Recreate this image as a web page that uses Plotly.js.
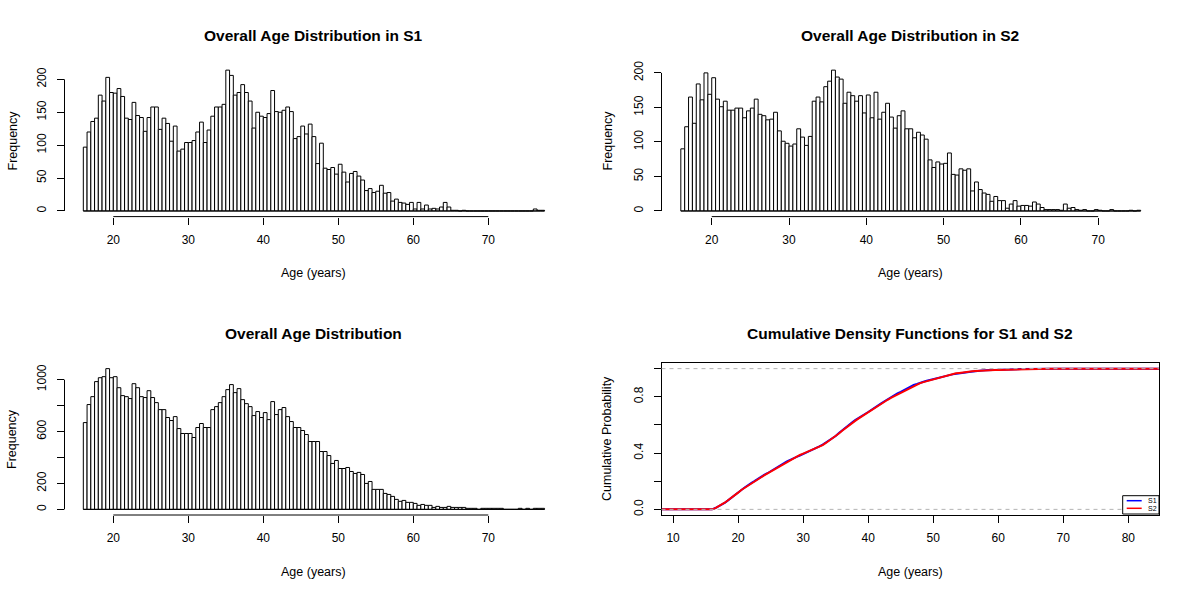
<!DOCTYPE html>
<html>
<head>
<meta charset="utf-8">
<script src="https://cdn.plot.ly/plotly-3.0.1.min.js"></script>
<style>html,body{margin:0;padding:0;background:#fff}#chart{width:1193px;height:596px}</style>
</head>
<body>
<div id="chart"></div>
<script>
// ---- data (histogram bins of 0.5 years starting at age 16) ----
const binStart = 16;
const binWidth = 0.5;

const s1Counts = [97,120,136,141,176,167,203,180,179,186,
  174,141,139,165,145,142,121,142,158,158,
  124,141,133,106,129,91,94,104,104,107,
  120,135,104,123,144,158,158,162,214,206,
  176,180,192,180,167,126,150,144,142,148,
  183,151,150,153,158,151,110,113,129,117,
  132,113,72,103,65,63,66,56,71,59,
  44,57,60,53,47,31,34,28,30,39,
  27,28,15,18,13,12,10,13,3,13,
  3,9,3,4,3,6,13,6,1,1,
  0,1,0,0,0,0,0,0,0,0,
  0,0,0,0,0,0,0,0,0,0,
  3,1,1];

const s2Counts = [90,122,165,127,184,161,200,169,193,162,
  151,159,146,146,149,149,135,145,149,162,
  140,138,132,133,143,116,101,98,94,97,
  119,107,95,108,159,165,158,180,188,204,
  194,191,156,172,167,159,167,142,168,135,
  172,133,143,156,136,120,138,145,119,119,
  106,114,110,104,74,63,71,68,69,84,
  53,52,61,59,61,29,42,31,26,24,
  14,21,15,15,4,10,15,7,8,8,
  7,13,10,5,2,2,2,2,1,10,
  4,5,2,1,2,0,0,2,1,0,
  0,2,0,0,0,0,1,0,1];

const overallCounts = [669,808,869,985,1015,1023,1085,1015,1023,938,
  877,869,854,969,938,869,862,915,862,823,
  769,769,708,685,715,623,585,585,585,554,
  631,662,631,631,769,792,823,869,923,962,
  900,931,846,815,792,723,754,708,746,692,
  831,731,769,785,715,677,631,631,608,577,
  523,523,523,446,446,415,354,377,315,315,
  323,292,277,285,269,200,215,154,154,154,
  123,115,100,77,62,69,54,54,46,31,
  38,31,31,15,23,15,15,23,15,15,
  15,15,8,8,8,0,8,8,8,8,
  8,8,0,0,0,0,8,0,8,0,
  8,8,8];

const ageTicks = [20,30,40,50,60,70];
const cdfAgeTicks = [10,20,30,40,50,60,70,80];
const freqTicksTop = [0,50,100,150,200];
const freqTicksBottom = [0,200,400,600,800,1000];
const freqTextBottom = ['0','200','','600','','1000'];
const probTicks = [0,0.2,0.4,0.6,0.8,1.0];
const probText = ['0.0','','0.4','','0.8',''];
const seriesNames = ['S1','S2'];
const titles = ['Overall Age Distribution in S1','Overall Age Distribution in S2',
  'Overall Age Distribution','Cumulative Density Functions for S1 and S2'];

// ---- layout geometry (pixels of a 1193x596 page) ----
const W = 1193, H = 596;
const px = v => v / W, py = v => 1 - v / H;
const leftDom = [px(64.5), px(563)];
const rightDom = [px(661.5), px(1159)];
const topDom = [py(216.6), py(64.5)];
const botDom = [py(515), py(363)];
const cdfRange = [8.22, 84.72];

const FONT = 'Liberation Sans, Arial, Helvetica, sans-serif';

function centers(arr) { return arr.map((_, i) => binStart + binWidth * (i + 0.5)); }
function histTrace(arr, xa, ya) {
  return {type: 'bar', x: centers(arr), y: arr, width: binWidth, xaxis: xa, yaxis: ya,
    marker: {color: '#ffffff', line: {color: '#000000', width: 1}}, hoverinfo: 'x+y', showlegend: false};
}
function cdfTrace(arr, color, name) {
  const total = arr.reduce((a, b) => a + b, 0);
  const xs = [cdfRange[0] - 5, binStart], ys = [0, 0];
  let c = 0;
  arr.forEach((v, i) => { c += v; xs.push(binStart + binWidth * (i + 1)); ys.push(c / total); });
  xs.push(cdfRange[1] + 5); ys.push(1);
  return {type: 'scatter', mode: 'lines', x: xs, y: ys, xaxis: 'x4', yaxis: 'y4', name: name,
    line: {color: color, width: 2}, showlegend: false};
}

const data = [
  histTrace(s1Counts, 'x', 'y'),
  histTrace(s2Counts, 'x2', 'y2'),
  histTrace(overallCounts, 'x3', 'y3'),
  cdfTrace(s1Counts, '#0000ff', seriesNames[0]),
  cdfTrace(s2Counts, '#ff0000', seriesNames[1])
];

function xAxis(dom, range, ticks, anchor, box) {
  return {domain: dom, range: range, anchor: anchor, tickmode: 'array', tickvals: ticks,
    ticks: 'outside', ticklen: 7, tickwidth: 1, tickcolor: '#000', showgrid: false, zeroline: false,
    showline: !!box, mirror: !!box, linecolor: '#000', linewidth: 1, ticklabelstandoff: 5,
    tickfont: {family: FONT, size: 12, color: '#000'}, fixedrange: true};
}
function yAxis(dom, range, ticks, text, anchor, box) {
  return {domain: dom, range: range, anchor: anchor, tickmode: 'array', tickvals: ticks, ticktext: text,
    tickangle: -90, ticks: 'outside', ticklen: 7, tickwidth: 1, tickcolor: '#000', showgrid: false,
    zeroline: false, showline: !!box, mirror: !!box, linecolor: '#000', linewidth: 1, ticklabelstandoff: 6,
    tickfont: {family: FONT, size: 12, color: '#000'}, fixedrange: true};
}

function binEnd(arr) { return binStart + binWidth * arr.length; }
const shapes = [];
// R-style axis lines spanning first..last tick
[['x','y',ageTicks,freqTicksTop,s1Counts],['x2','y2',ageTicks,freqTicksTop,s2Counts],['x3','y3',ageTicks,freqTicksBottom,overallCounts]]
.forEach(([xa, ya, xt, yt, arr]) => {
  shapes.push({type:'line', xref: xa, yref: ya + ' domain', x0: xt[0], x1: xt[xt.length-1], y0: 0, y1: 0, line:{color:'#000', width:1}});
  shapes.push({type:'line', xref: xa + ' domain', yref: ya, x0: 0, x1: 0, y0: yt[0], y1: yt[yt.length-1], line:{color:'#000', width:1}});
  // zero-height bins drawn as baseline
  shapes.push({type:'line', xref: xa, yref: ya, x0: binStart, x1: binEnd(arr), y0: 0, y1: 0, line:{color:'#000', width:1}});
});
// grey dashed 0/1 lines in the CDF panel
[0, 1].forEach(v => shapes.push({type:'line', xref:'x4 domain', yref:'y4', x0:0, x1:1, y0:v, y1:v,
  line:{color:'#b3b3b3', width:1, dash:'4px,4px'}, layer:'above'}));
// legend box
shapes.push({type:'rect', xref:'paper', yref:'paper', x0:px(1122.7), x1:px(1159), y0:py(514), y1:py(495.7),
  fillcolor:'#fff', line:{color:'#000', width:1}, layer:'above'});
shapes.push({type:'line', xref:'paper', yref:'paper', x0:px(1126.7), x1:px(1141.7), y0:py(500.7), y1:py(500.7), line:{color:'#0000ff', width:1.5}, layer:'above'});
shapes.push({type:'line', xref:'paper', yref:'paper', x0:px(1126.7), x1:px(1141.7), y0:py(508.3), y1:py(508.3), line:{color:'#ff0000', width:1.5}, layer:'above'});

function ann(text, x, y, opts) {
  return Object.assign({text: text, xref:'paper', yref:'paper', x: x, y: y, showarrow:false,
    xanchor:'center', yanchor:'middle', font:{family: FONT, size: 12.5, color:'#000'}}, opts || {});
}
const cL = (leftDom[0]+leftDom[1])/2, cR = (rightDom[0]+rightDom[1])/2;
const TF = {family: FONT, size: 15.5, color: '#000'};
const annotations = [
  ann('<b>' + titles[0] + '</b>', cL, py(35), {font: TF}),
  ann('<b>' + titles[1] + '</b>', cR, py(35), {font: TF}),
  ann('<b>' + titles[2] + '</b>', cL, py(333), {font: TF}),
  ann('<b>' + titles[3] + '</b>', cR, py(333), {font: TF}),
  ann('Age (years)', cL, py(273)),
  ann('Age (years)', cR, py(273)),
  ann('Age (years)', cL, py(572)),
  ann('Age (years)', cR, py(572)),
  ann('Frequency', px(12), py(140.5), {textangle: -90}),
  ann('Frequency', px(607), py(140.5), {textangle: -90}),
  ann('Frequency', px(12), py(439), {textangle: -90}),
  ann('Cumulative Probability', px(607), py(439), {textangle: -90}),
  ann(seriesNames[0], px(1146), py(500.7), {xanchor:'left', font:{family:FONT, size:7, color:'#000'}}),
  ann(seriesNames[1], px(1146), py(508.3), {xanchor:'left', font:{family:FONT, size:7, color:'#000'}})
];

const layout = {
  width: W, height: H, margin: {l:0, r:0, t:0, b:0}, paper_bgcolor:'#fff', plot_bgcolor:'rgba(0,0,0,0)',
  showlegend: false, bargap: 0, font: {family: FONT, color:'#000'},
  xaxis: xAxis(leftDom, [13.49, 79.96], ageTicks, 'y'),
  yaxis: yAxis(topDom, [-8.56, 222.56], freqTicksTop, freqTicksTop.map(String), 'x'),
  xaxis2: xAxis(rightDom, [13.5, 77.87], ageTicks, 'y2'),
  yaxis2: yAxis(topDom, [-8.16, 212.16], freqTicksTop, freqTicksTop.map(String), 'x2'),
  xaxis3: xAxis(leftDom, [13.49, 79.96], ageTicks, 'y3'),
  yaxis3: yAxis(botDom, [-43.4, 1128.4], freqTicksBottom, freqTextBottom, 'x3'),
  xaxis4: xAxis(rightDom, cdfRange, cdfAgeTicks, 'y4', true),
  yaxis4: yAxis(botDom, [-0.04, 1.04], probTicks, probText, 'x4', true),
  shapes: shapes, annotations: annotations
};

Plotly.newPlot('chart', data, layout, {displayModeBar: false, staticPlot: true});
</script>
</body>
</html>
